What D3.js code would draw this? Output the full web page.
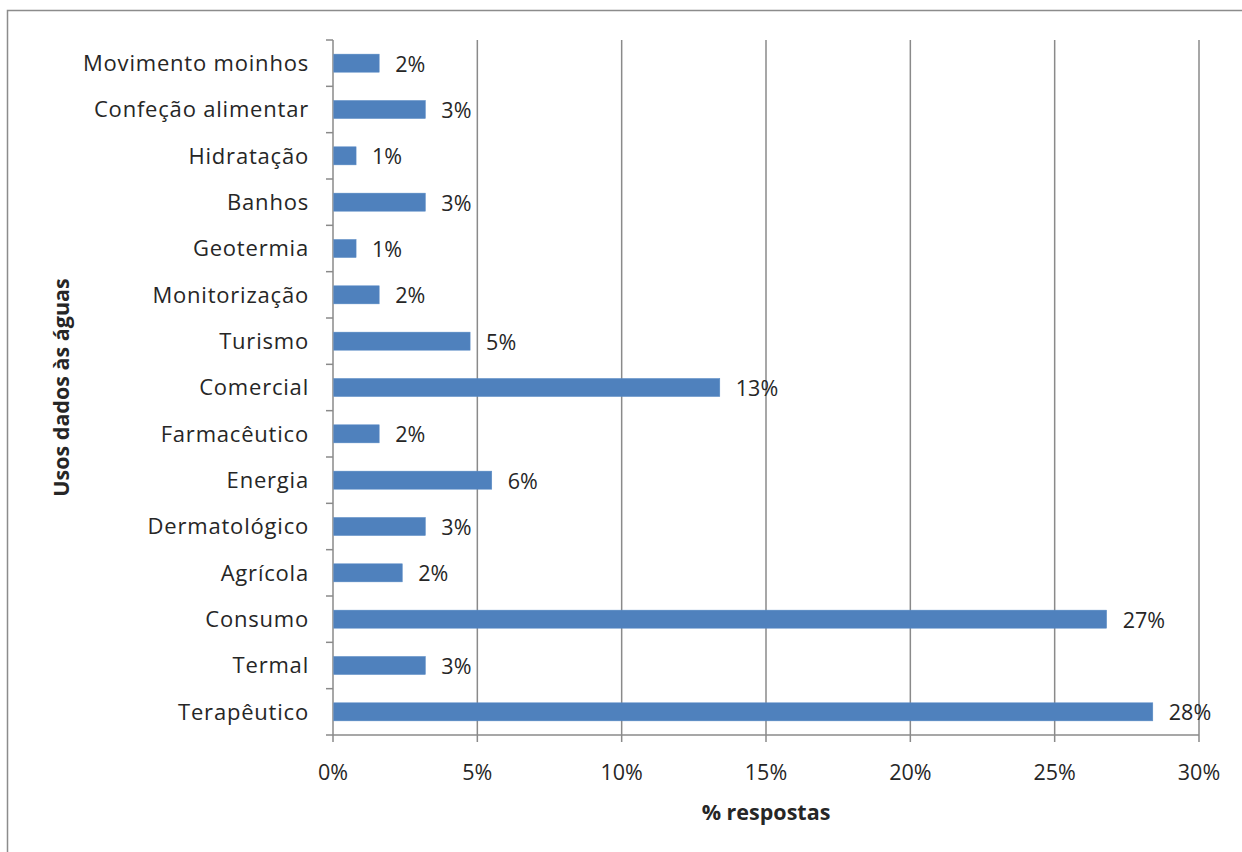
<!DOCTYPE html>
<html>
<head>
<meta charset="utf-8">
<script src="https://cdn.jsdelivr.net/npm/d3@7"></script>
<style>
  body { margin: 0; background: #fff; }
  svg text { font-family: "Open Sans", sans-serif; fill: #262626; }
</style>
</head>
<body>
<div id="chart"></div>
<script>
// dados
const categories = ['Terapêutico', 'Termal', 'Consumo', 'Agrícola', 'Dermatológico', 'Energia',
    'Farmacêutico', 'Comercial', 'Turismo', 'Monitorização', 'Geotermia', 'Banhos',
    'Hidratação', 'Confeção alimentar', 'Movimento moinhos'];
const values = [28.4, 3.2, 26.8, 2.4, 3.2, 5.5, 1.6, 13.4, 4.75, 1.6, 0.8, 3.2, 0.8, 3.2, 1.6];
const valueLabels = ['28%', '3%', '27%', '2%', '3%', '6%', '2%', '13%', '5%', '2%', '1%', '3%', '1%', '3%', '2%'];
const xTicks = [0, 5, 10, 15, 20, 25, 30];

const W = 1242, H = 852;
const margin = {top: 40, right: 43, bottom: 117, left: 333};
const width = W - margin.left - margin.right,
    height = H - margin.top - margin.bottom;
const fs = 21.5;

const svg = d3.select('#chart').append('svg')
    .attr('width', W)
    .attr('height', H);

// cornice esterna
svg.append('path')
    .attr('d', `M7.5,${H} V10.5 H${W}`)
    .attr('fill', 'none')
    .attr('stroke', '#8c8c8c')
    .attr('stroke-width', 1.5);

const g = svg.append('g')
    .attr('transform', `translate(${margin.left}, ${margin.top})`);

const x = d3.scaleLinear().domain([0, 30]).range([0, width]);
const y = d3.scaleBand()
    .domain(categories.slice().reverse())
    .range([0, height])
    .paddingInner(0.61)
    .paddingOuter(0.305);

const gridColor = '#8a8a8a';

// griglia verticale
g.append('g')
    .selectAll('line')
    .data(xTicks.slice(1))
    .enter().append('line')
    .attr('x1', d => x(d)).attr('x2', d => x(d))
    .attr('y1', 0).attr('y2', height + 7)
    .attr('stroke', gridColor)
    .attr('stroke-width', 1.5);

// asse x
g.append('line')
    .attr('x1', 0).attr('x2', width)
    .attr('y1', height).attr('y2', height)
    .attr('stroke', gridColor).attr('stroke-width', 1.5);
g.append('line')
    .attr('x1', 0).attr('x2', 0)
    .attr('y1', height).attr('y2', height + 7)
    .attr('stroke', gridColor).attr('stroke-width', 1.5);

g.append('g')
    .selectAll('text')
    .data(xTicks)
    .enter().append('text')
    .attr('x', d => x(d))
    .attr('y', height + 45)
    .attr('text-anchor', 'middle')
    .attr('font-size', fs)
    .text(d => d + '%');

// asse y
g.append('line')
    .attr('x1', 0).attr('x2', 0)
    .attr('y1', 0).attr('y2', height)
    .attr('stroke', gridColor).attr('stroke-width', 1.5);

const step = y.step();
g.append('g')
    .selectAll('line')
    .data(d3.range(categories.length + 1))
    .enter().append('line')
    .attr('x1', -7).attr('x2', 0)
    .attr('y1', i => i * step).attr('y2', i => i * step)
    .attr('stroke', gridColor).attr('stroke-width', 1.5);

g.append('g')
    .selectAll('text')
    .data(categories)
    .enter().append('text')
    .attr('x', -24)
    .attr('y', d => y(d) + y.bandwidth() / 2)
    .attr('dy', '0.35em')
    .attr('text-anchor', 'end')
    .attr('font-size', 22)
    .attr('letter-spacing', 0.8)
    .text(d => d);

// barre
g.append('g')
    .selectAll('rect')
    .data(categories)
    .enter().append('rect')
    .attr('x', 0.75)
    .attr('y', d => y(d))
    .attr('width', (d, i) => x(values[i]) - 0.75)
    .attr('height', y.bandwidth())
    .attr('fill', '#4f81bd')
    .attr('stroke', '#5b8cc6')
    .attr('stroke-width', 0.5);

// etichette valori
g.append('g')
    .selectAll('text')
    .data(categories)
    .enter().append('text')
    .attr('x', (d, i) => x(values[i]) + 16)
    .attr('y', d => y(d) + y.bandwidth() / 2)
    .attr('dy', '0.4em')
    .attr('font-size', fs)
    .text((d, i) => valueLabels[i]);

// titoli assi
g.append('text')
    .attr('x', width / 2)
    .attr('y', height + 85)
    .attr('text-anchor', 'middle')
    .attr('font-size', fs)
    .attr('font-weight', 'bold')
    .text('% respostas');

svg.append('text')
    .attr('transform', `translate(69, ${margin.top + height / 2}) rotate(-90)`)
    .attr('text-anchor', 'middle')
    .attr('font-size', fs)
    .attr('font-weight', 'bold')
    .text('Usos dados às águas');
</script>
</body>
</html>
